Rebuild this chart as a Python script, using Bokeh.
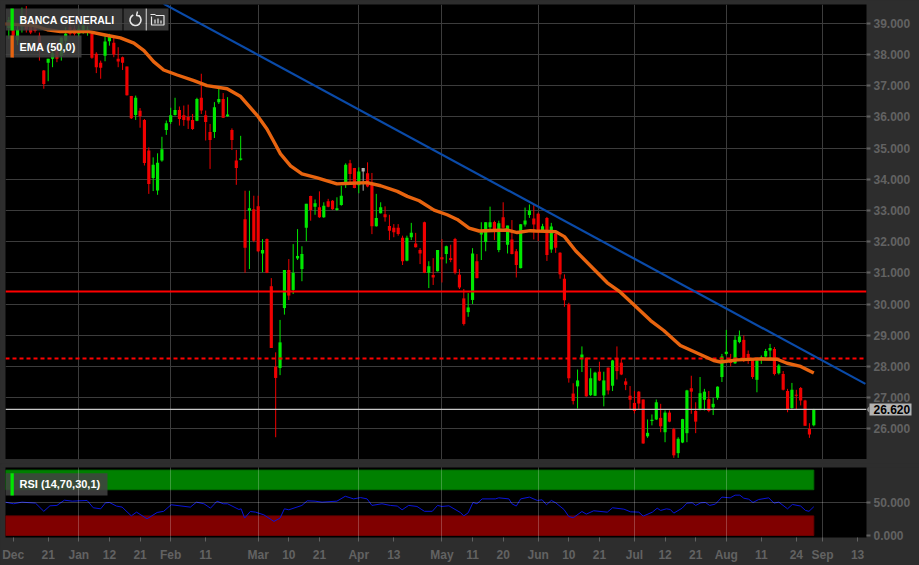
from bokeh.plotting import figure
from bokeh.layouts import column, row
from bokeh.models import FixedTicker, PrintfTickFormatter, Range1d
from bokeh.core.properties import value
from bokeh.embed import file_html
from bokeh.resources import INLINE

opens = [38.85,38.8,38.45,38.9,39.1,38.9,39.0,38.6,37.48,37.73,37.86,38.12,37.96,38.44,38.87,38.82,38.66,38.76,38.75,38.66,
38.02,37.73,37.96,38.42,38.37,37.86,37.91,37.61,36.67,36.06,36.19,35.9,34.92,34.04,33.64,34.6,35.58,35.83,36.06,36.22,
36.05,35.99,35.9,35.87,36.61,36.05,35.51,35.51,36.47,36.57,36.02,35.58,34.6,34.62,32.72,33.0,33.04,33.13,31.62,32.08,
30.57,27.99,27.95,29.87,31.09,30.45,31.46,31.12,32.44,33.46,33.12,33.1,32.78,33.29,33.31,33.01,33.17,33.9,34.51,34.36,
33.81,34.36,34.19,33.85,32.49,32.91,32.88,32.5,32.44,32.44,32.12,31.39,32.14,31.94,31.73,32.62,31.0,30.93,31.05,31.5,
31.6,31.47,32.08,30.94,30.18,29.74,30.13,31.37,32.23,31.99,32.46,32.63,31.73,32.78,31.9,32.07,31.69,31.15,32.55,32.85,
32.74,32.89,32.37,32.76,31.75,32.25,31.64,30.81,29.99,27.13,27.36,28.28,28.28,27.08,27.06,27.83,27.07,27.96,27.38,28.26,
28.12,27.52,27.06,26.83,27.19,26.94,25.76,26.25,26.3,26.35,25.89,26.52,25.99,25.22,25.56,25.86,27.3,26.57,26.64,26.93,
26.95,26.69,26.99,27.66,28.4,28.21,28.1,28.78,28.85,28.4,28.21,27.57,28.21,28.32,28.51,28.56,27.78,27.76,27.21,26.67,
27.09,27.31,26.91,26.0,26.11]
highs = [39.2,39.3,39.0,39.5,39.55,39.0,39.1,38.7,37.5,37.86,38.12,38.39,38.55,38.87,38.98,38.93,38.93,39.03,38.9,38.76,
38.07,37.8,38.6,38.66,38.57,38.23,37.93,37.61,36.67,36.68,36.28,35.93,35.02,34.7,34.83,35.36,35.88,36.29,36.61,36.33,
36.36,36.39,36.09,36.61,37.38,36.2,35.77,36.47,36.97,36.76,36.63,35.63,34.94,35.39,33.63,33.63,33.47,33.47,32.08,32.1,
30.83,28.45,29.49,31.09,31.44,31.92,32.4,31.85,33.21,33.47,33.35,33.61,33.26,33.37,33.33,33.42,33.79,34.51,34.62,34.36,
34.38,34.36,34.54,34.2,33.53,33.26,33.13,32.86,32.56,32.56,32.19,32.19,32.6,32.28,31.79,32.64,31.37,31.47,31.73,32.08,
31.87,31.9,32.12,31.12,30.48,30.35,31.79,31.6,32.62,32.62,33.12,32.67,32.67,33.26,32.51,32.69,31.76,32.56,33.09,33.19,
33.17,32.93,32.57,32.79,32.6,32.36,31.66,30.95,30.04,27.46,27.9,28.64,28.28,27.94,27.83,28.15,27.83,27.96,28.21,28.64,
28.25,27.62,27.37,27.21,27.21,26.94,26.3,26.46,26.94,26.8,26.59,26.59,26.03,25.73,26.32,27.25,27.7,26.85,27.66,27.28,
27.21,26.99,27.36,28.4,29.17,28.4,28.99,29.15,28.99,28.51,28.24,28.24,28.35,28.56,28.72,28.62,28.08,27.85,27.28,27.47,
27.25,27.34,26.93,26.18,26.64]
lows = [38.5,37.9,38.3,38.7,38.7,38.65,38.7,37.8,36.9,37.14,37.59,37.75,37.8,38.12,38.6,38.6,38.55,38.66,38.6,37.86,
37.4,37.22,37.78,38.28,37.91,37.59,37.5,36.68,35.93,35.9,35.65,34.44,33.53,33.62,33.5,34.56,35.42,35.77,36.04,35.72,
35.71,35.61,35.58,35.86,36.09,35.24,34.33,35.32,36.41,35.96,36.0,34.94,33.82,34.6,31.0,31.12,31.98,31.66,31.02,30.99,
28.59,25.73,27.72,29.66,30.13,30.32,31.41,30.73,32.01,32.67,32.86,32.76,32.76,33.1,33.02,32.99,33.15,33.72,33.85,33.71,
33.55,33.63,33.74,32.24,32.48,32.9,32.64,32.05,32.14,32.19,31.25,31.37,32.05,31.81,31.28,30.99,30.51,30.61,31.04,30.69,
31.3,31.34,30.95,30.48,29.31,29.59,30.0,30.82,31.41,31.69,32.4,32.05,31.66,32.43,31.62,31.59,30.85,31.14,32.48,32.76,
32.07,32.02,32.34,31.38,31.64,31.64,30.81,29.91,27.48,26.78,26.65,27.82,27.03,27.05,27.05,27.53,26.72,27.1,27.21,27.58,
27.72,27.24,26.62,26.49,26.62,25.52,25.71,26.11,26.28,25.89,25.57,26.21,25.07,25.07,25.54,25.57,26.48,25.86,26.59,26.59,
26.53,26.44,26.93,27.5,28.35,28.0,28.08,28.74,28.14,28.08,27.6,27.17,28.08,28.27,28.24,27.71,27.74,27.23,26.53,26.64,
26.61,26.75,26.09,25.71,26.08]
closes = [39.1,38.6,38.8,39.1,38.8,38.7,38.75,38.2,37.05,37.86,38.04,37.86,38.53,38.66,38.66,38.66,38.82,38.93,38.8,37.89,
37.59,37.57,38.41,38.57,38.0,37.77,37.73,36.69,35.95,36.61,36.02,34.52,33.85,34.46,34.53,34.96,35.79,36.05,36.22,35.93,
35.9,35.88,35.61,36.57,36.2,35.83,35.26,36.31,36.57,35.97,36.07,35.26,34.36,34.66,31.8,33.07,32.03,31.69,31.73,31.0,
28.59,27.63,28.77,31.09,30.27,31.0,31.54,31.6,33.21,33.01,33.23,32.78,33.15,33.12,33.04,33.07,33.47,34.46,34.17,33.72,
34.25,34.25,33.77,32.49,32.76,33.1,32.78,32.35,32.3,32.24,31.37,32.12,32.28,31.82,31.62,31.0,31.21,30.85,31.73,31.43,
31.85,31.41,31.0,30.53,29.36,29.89,31.62,30.83,32.3,32.62,32.62,32.35,32.59,32.44,32.52,31.6,31.25,32.56,32.68,33.0,
32.55,32.34,32.49,31.57,32.48,31.8,30.95,30.12,27.62,26.89,27.55,28.38,27.04,27.62,27.8,27.55,27.55,27.23,28.19,27.85,
27.74,27.41,26.93,26.57,26.81,25.53,25.87,26.29,26.85,26.08,26.52,26.23,25.15,25.68,26.31,27.23,27.19,26.23,27.14,27.19,
26.57,26.8,27.35,28.32,28.47,28.11,28.85,28.96,28.19,28.21,27.66,28.19,28.3,28.49,28.59,27.76,28.03,27.25,26.61,27.25,
27.06,26.91,26.1,25.82,26.62]
grey_candles = [81]

ema_x = [-0.8,5.7,8.8,11.8,18.3,21.7,25.5,28.6,30.9,33.1,35.4,38.5,42.3,45.3,49.9,53,56.8,59,60.6,62.1,64.4,67,70.5,75,78.1,81.9,85,88.8,91.1,93.8,97.2,100.2,102.5,105.2,107.5,113.9,116.2,119.2,120.4,125,127,129.6,133,136.8,139.8,143.6,146.7,149.7,153.5,157.3,161.1,162.7,166.5,171.8,175.6,177.9,181,184]
ema_y = [38.98,38.93,38.79,38.73,38.73,38.63,38.53,38.36,38.12,37.77,37.5,37.34,37.16,37.0,36.9,36.65,36.04,35.61,35.2,34.81,34.43,34.17,34.04,33.85,33.87,33.89,33.79,33.61,33.45,33.31,33.01,32.86,32.71,32.43,32.34,32.37,32.29,32.35,32.34,32.32,32.16,31.7,31.22,30.68,30.38,29.88,29.47,29.15,28.67,28.43,28.19,28.14,28.21,28.24,28.23,28.1,28.0,27.79]

trend_x = [35.4, 195.8]
trend_y = [39.62, 27.44]
support_solid = 30.4
support_dashed = 28.25
last_price = 26.62
last_price_label = "26.620"

rsi_x = [-0.8,1.1,3,6.1,8,9.4,11,12.7,14.5,17.9,19.3,21,22.1,23,24.6,25.9,28,29.2,31.6,33.9,35.4,37.1,41.5,42.9,44.6,46.1,47.6,49,50,52.6,53.1,53.9,55.2,56.4,58.3,60.6,62,63,64,67,68.2,70,71.6,75,76.9,78.8,80.4,81.9,83,85.3,87.2,88.8,89.9,91.4,93.3,95,96.8,98,99,100.6,103.2,104,105,106.1,107,108.2,111.2,112,114.3,115,116,117,119,120.8,121.9,122.9,124,125,126.9,128,129,131,132,133.7,136.8,138,140.6,142.1,144,145,147.1,148.2,149,150.3,151.2,152,153.9,155,156.2,157,158.2,159.2,160.2,161.5,163,164.9,166,167.1,168,169.1,170.1,171.4,173.7,174.9,176,178,179.1,181,182.1,182.9,184]
rsi_y = [51,48.5,51,49.5,37,45.4,46,54,52.5,53.6,42.4,40.8,50,50.5,45,43.4,30,35.7,25.5,35.2,37,47,43.4,51,48.5,41.8,52.5,48.5,48.5,39.8,40.8,26.6,36.7,35.7,31.6,21.5,26.6,40.8,39.3,46,53,52.5,51,52.5,60,56,58,56,46,48.5,46,45,39.3,46,44.4,37,37,46,44.4,45.4,35.2,30,34.7,50.5,48.5,56,56,57.6,56,48.5,45,56,58.7,53.6,54.6,47,53.6,50,39.8,29,27,36.7,32.7,37.8,35.7,42.4,40.3,36.2,35.7,29.6,35.7,41.8,38.3,40.8,39.8,34.2,41.8,49.5,50,46,50,50.5,46,48,58.7,57.6,61.7,61.7,57,55.6,50.5,55,57.6,49.5,51,40.8,47.5,45,38.3,37,44]

price_ticks = list(range(26, 40))
rsi_ticks = [0, 50]
time_ticks = [1,9,16,23,30,37,45,57,64,71,80,88,99,106,113,121,128,135,143,150,157,164,172,180,186,194]
time_labels = ["Dec","21","Jan","12","21","Feb","11","Mar","10","21","Apr","13","May","11","20","Jun","10","21","Jul","12","21","Aug","11","24","Sep","13"]
month_ticks = [16,37,57,80,99,121,143,164,186]

BG = "#2d2d2d"
GRID = "#3c3c3c"
TICK = "#626262"
FONT = "Liberation Sans"
GREEN = "#00e800"
RED = "#f00000"

X0, DX = 8.3, 4.375
def xd(px):
    return (px - X0) / DX
def yd1(py):
    return 26 + (428.3 - py) / 31.2
def yd2(py):
    return 50 + (502.3 - py) / 0.654

x_range = Range1d(xd(5), xd(866))

p1 = figure(width=919, height=459, output_backend="svg", toolbar_location=None,
            x_range=x_range, y_range=Range1d(yd1(459), yd1(4)), y_axis_location="right",
            frame_width=861, frame_height=455,
            min_border_left=5, min_border_right=53, min_border_top=4, min_border_bottom=0,
            background_fill_color="black", border_fill_color=BG, outline_line_color=None)
p1.xaxis.visible = False
p1.yaxis.ticker = FixedTicker(ticks=price_ticks)
p1.yaxis.formatter = PrintfTickFormatter(format="%.3f")
p1.xgrid.ticker = FixedTicker(ticks=month_ticks)
p1.ygrid.ticker = FixedTicker(ticks=price_ticks)
for g in (p1.xgrid, p1.ygrid):
    g.grid_line_color = GRID
    g.grid_line_width = 1

p2 = figure(width=919, height=98, output_backend="svg", toolbar_location=None,
            x_range=x_range, y_range=Range1d(yd2(537), yd2(467)), y_axis_location="right",
            frame_width=861, frame_height=70,
            min_border_left=5, min_border_right=53, min_border_top=0, min_border_bottom=28,
            background_fill_color="black", border_fill_color=BG, outline_line_color=None)
p2.xaxis.ticker = FixedTicker(ticks=time_ticks)
p2.xaxis.major_label_overrides = dict(zip(time_ticks, time_labels))
p2.yaxis.ticker = FixedTicker(ticks=rsi_ticks)
p2.yaxis.formatter = PrintfTickFormatter(format="%.3f")
p2.xgrid.ticker = FixedTicker(ticks=month_ticks)
p2.ygrid.ticker = FixedTicker(ticks=[50])
for g in (p2.xgrid, p2.ygrid):
    g.grid_line_color = "white"
    g.grid_line_alpha = 0.23
    g.level = "overlay"

for ax in (p1.yaxis[0], p2.yaxis[0], p2.xaxis[0]):
    ax.axis_line_color = None
    ax.minor_tick_line_color = None
    ax.major_tick_line_color = TICK
    ax.major_tick_line_width = 2 if ax is not p2.xaxis[0] else 1
    ax.major_tick_in = 0
    ax.major_tick_out = 4
    ax.major_label_text_color = TICK
    ax.major_label_text_font = FONT
    ax.major_label_text_font_style = "bold"
    ax.major_label_text_font_size = "12px"
    ax.major_label_standoff = 3
p2.xaxis[0].major_label_standoff = 6

idx = list(range(len(opens)))
colors = ["#b0b0b0" if i in grey_candles else (GREEN if closes[i] >= opens[i] else RED) for i in idx]
p1.segment(x0=idx, y0=lows, x1=idx, y1=highs, line_color=colors, line_width=1)
p1.vbar(x=idx, width=0.72, bottom=[min(a, b) for a, b in zip(opens, closes)],
        top=[max(a, b) for a, b in zip(opens, closes)], fill_color=colors, line_color=None)

xr = [xd(5), xd(866)]
p1.line(xr, [last_price] * 2, line_color="#c8c8c8", line_width=1.2)
p1.line(xr, [support_solid] * 2, line_color="#ff0000", line_width=2)
p1.line(xr, [support_dashed] * 2, line_color="#ff0000", line_width=2, line_dash="4 3")
p1.line(trend_x, trend_y, line_color="#0a4aa8", line_width=2.2)
p1.line(ema_x, ema_y, line_color="#e8640f", line_width=3.4, line_join="round")

def legend(fig, yf, left, right, top, bottom, color, text, size="11px"):
    fig.quad(left=[xd(left)], right=[xd(right)], top=[yf(top)], bottom=[yf(bottom)],
             fill_color="#424242", fill_alpha=0.85, line_color=None)
    fig.quad(left=[xd(left + 5)], right=[xd(left + 8.3)], top=[yf(top)], bottom=[yf(bottom)],
             fill_color=color, line_color=None)
    fig.text(x=[xd(left + 14)], y=[yf((top + bottom) / 2)], text=[text], text_color="white",
             text_font=value(FONT), text_font_style="bold", text_font_size=size, text_baseline="middle")

legend(p1, yd1, 5, 122, 8, 30, GREEN, "BANCA GENERALI", "10.5px")
legend(p1, yd1, 5, 81, 35, 57, "#e8640f", "EMA (50,0)")
legend(p2, yd2, 5, 107, 472.7, 495, GREEN, "RSI (14,70,30,1)")

p1.quad(left=[xd(123), xd(146.5)], right=[xd(145), xd(168)], top=[yd1(8)] * 2, bottom=[yd1(30)] * 2,
        fill_color="#424242", fill_alpha=0.85, line_color=None)
p1.line([xd(145.7)] * 2, [yd1(8), yd1(30)], line_color="white", line_width=1)
p1.arc(x=[xd(135)], y=[yd1(19.5)], radius=5.5, radius_units="screen",
       start_angle=-4.3, end_angle=0.9, direction="anticlock", line_color="#e8e8e8", line_width=1.6)
p1.line([xd(137), xd(136), xd(139.5)], [yd1(11), yd1(15), yd1(15.5)], line_color="#e8e8e8", line_width=1.4)
p1.multi_line(xs=[[xd(151), xd(151), xd(163.5), xd(163.5), xd(155)],
                  [xd(154.5), xd(154.5)], [xd(157.5), xd(157.5)], [xd(160.5), xd(160.5)], [xd(150), xd(155)]],
              ys=[[yd1(16), yd1(24.5), yd1(24.5), yd1(15), yd1(15)],
                  [yd1(19), yd1(23)], [yd1(18), yd1(23)], [yd1(20), yd1(23)], [yd1(14), yd1(14)]],
              line_color="#e8e8e8", line_width=1.2)

p2.quad(left=[xd(5)], right=[184], top=[100], bottom=[70], fill_color="#008000", line_color="#006a00", level="underlay")
p2.quad(left=[xd(5)], right=[184], top=[30], bottom=[0], fill_color="#800000", line_color="#6a0000", level="underlay")
p2.line(rsi_x, rsi_y, line_color="#0a14d8", line_width=1)

# gap between the panels
gap = figure(width=919, height=8, output_backend="svg", toolbar_location=None,
             x_range=Range1d(0, 919), y_range=Range1d(8, 0), x_axis_type=None, y_axis_type=None,
             min_border=0, min_border_left=0, min_border_right=0, min_border_top=0, min_border_bottom=0,
             background_fill_color=BG, border_fill_color=BG, outline_line_color=None)
gap.quad(left=[0], right=[1], top=[0], bottom=[1], fill_color=BG, line_color=None)

# drag handle, laid over the top of the gap; total width cancels its negative margin
handle = figure(width=495, height=6, output_backend="svg", toolbar_location=None,
                x_range=Range1d(0, 495), y_range=Range1d(6, 0), margin=(-6, 0, 0, -495),
                x_axis_type=None, y_axis_type=None, align="start",
                min_border=0, min_border_left=0, min_border_right=0, min_border_top=0, min_border_bottom=0,
                background_fill_alpha=0, border_fill_alpha=0, outline_line_color=None)
handle.quad(left=[424] * 3, right=[444] * 3, top=[1, 3, 5], bottom=[2, 4, 6], fill_color="white", line_color=None)

# price flag laid over the axis strip; its total width cancels its negative margin
flag = figure(width=53, height=30, output_backend="svg", toolbar_location=None,
              x_range=Range1d(0, 53), y_range=Range1d(30, 0), margin=(392, 0, 0, -53),
              x_axis_type=None, y_axis_type=None, align="start",
              min_border=0, min_border_left=0, min_border_right=0, min_border_top=0, min_border_bottom=0,
              background_fill_alpha=0, border_fill_alpha=0, outline_line_color=None)
flag.quad(left=[3], right=[45], top=[8], bottom=[22], fill_color="#b4b4b4", line_color=None)
flag.patch(x=[0, 3, 3], y=[15, 11, 19], fill_color="#8a8a8a", line_color=None)
flag.text(x=[7], y=[15.5], text=[last_price_label], text_color="black", text_font=value(FONT),
          text_font_style="bold", text_font_size="12px", text_baseline="middle")

layout = column(row(p1, flag, spacing=0), gap, row(p2, handle, spacing=0), spacing=0)
html = file_html(layout, INLINE).replace("<head>", "<head><style>html,body{margin:0;padding:0;overflow:hidden;background:#2d2d2d}</style>", 1)
open("out.html", "w").write(html)
